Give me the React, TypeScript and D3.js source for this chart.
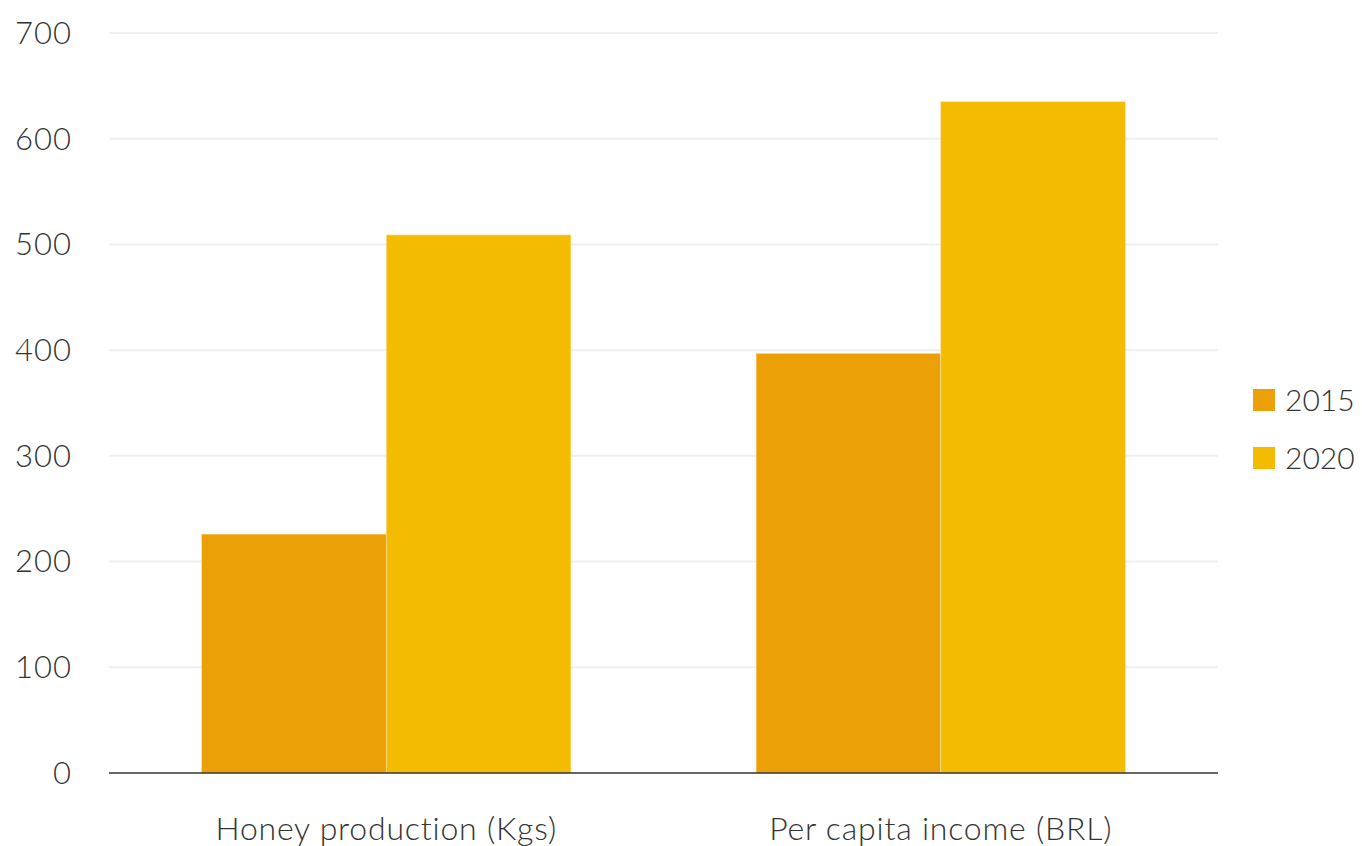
import React from "react";
import * as d3 from "d3";

const categories = ["Honey production (Kgs)", "Per capita income (BRL)"];
const seriesNames = ["2015", "2020"];
const values2015 = [226, 397];
const values2020 = [509, 635];
const yTicks = [0, 100, 200, 300, 400, 500, 600, 700];
const colors = ["#EBA007", "#F4BC00"];

const W = 1362;
const H = 846;
const margin = { left: 109, right: 144, top: 33, bottom: 73 };
const FONT = "Lato, 'Open Sans', sans-serif";

export default function App() {
  const x0 = d3
    .scaleBand<string>()
    .domain(categories)
    .range([margin.left, W - margin.right])
    .paddingInner(0.334)
    .paddingOuter(0.167);
  const x1 = d3
    .scaleBand<string>()
    .domain(seriesNames)
    .range([0, x0.bandwidth()]);
  const y = d3
    .scaleLinear()
    .domain([0, 700])
    .range([H - margin.bottom, margin.top]);

  const series = [values2015, values2020];

  return (
    <svg
      width={W}
      height={H}
      style={{ position: "absolute", left: 0, top: 0, background: "#fff" }}
    >
      {yTicks.map((t) => (
        <g key={t}>
          {t > 0 && (
            <line
              x1={margin.left}
              x2={W - margin.right}
              y1={y(t)}
              y2={y(t)}
              stroke="#EFEFEF"
              strokeWidth={2}
            />
          )}
          <text
            x={72}
            y={y(t)}
            dy="0.35em"
            textAnchor="end"
            fontFamily={FONT}
            fontWeight={300}
            fontSize={31}
            letterSpacing={1}
            fill="#333"
          >
            {t}
          </text>
        </g>
      ))}
      {categories.map((c, ci) => (
        <g key={c}>
          {seriesNames.map((s, si) => {
            const v = series[si][ci];
            return (
              <rect
                key={s}
                x={(x0(c) ?? 0) + (x1(s) ?? 0)}
                y={y(v)}
                width={x1.bandwidth()}
                height={y(0) - y(v)}
                fill={colors[si]}
                stroke="#FBE3A0"
                strokeWidth={0.6}
              />
            );
          })}
          <text
            x={(x0(c) ?? 0) + x0.bandwidth() / 2}
            y={840}
            textAnchor="middle"
            fontFamily={FONT}
            fontWeight={300}
            fontSize={32}
            letterSpacing={0.8}
            fill="#333"
          >
            {c}
          </text>
        </g>
      ))}
      <line
        x1={margin.left}
        x2={W - margin.right}
        y1={y(0)}
        y2={y(0)}
        stroke="#333"
        strokeWidth={1.5}
      />
      {seriesNames.map((s, i) => (
        <g key={s} transform={`translate(1253, ${389 + i * 58})`}>
          <rect width={22} height={22} fill={colors[i]} />
          <text
            x={32}
            y={11}
            dy="0.35em"
            fontFamily={FONT}
            fontWeight={300}
            fontSize={30}
            fill="#333"
          >
            {s}
          </text>
        </g>
      ))}
    </svg>
  );
}
